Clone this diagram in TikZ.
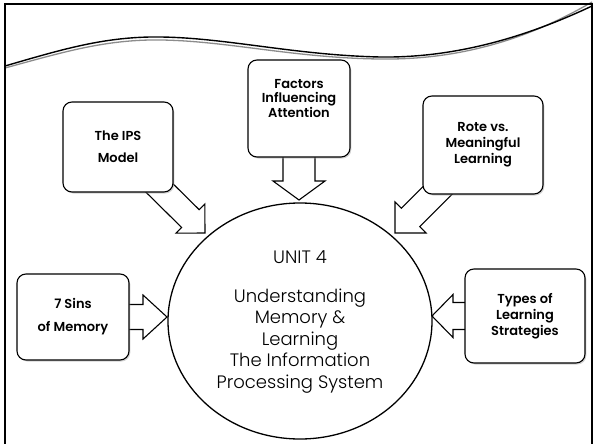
\documentclass[tikz,border=0pt]{standalone}
\usepackage{fontspec}
\setmainfont{Poppins}
\newfontfamily\thinfont{Poppins Light}
\newfontfamily\semifont{Poppins SemiBold}
\usetikzlibrary{calc,shadows,shapes.geometric}
\pgfdeclarelayer{bg}
\pgfsetlayers{bg,main}
\newcommand\blockarr[5]{%
  \coordinate (ba-hb) at ($(#2)!#5!(#1)$);
  \draw[blk] ($(#1)!#3!90:(#2)$) -- ($(ba-hb)!#3!90:(#2)$) -- ($(ba-hb)!#4!90:(#2)$) -- (#2)
    -- ($(ba-hb)!#4!-90:(#2)$) -- ($(ba-hb)!#3!-90:(#2)$) -- ($(#1)!#3!-90:(#2)$) -- cycle;}
\begin{document}
\begin{tikzpicture}[x=1pt,y=-1pt,
  topic/.style={draw=black, line width=1.1pt, rounded corners=9pt, fill=white, align=center,
    inner sep=0pt, drop shadow={shadow xshift=1.3pt, shadow yshift=-1.5pt, fill=black!35}},
  blk/.style={draw=black, line width=1.1pt, fill=white, line join=miter},
  hub/.style={draw=black, line width=1.3pt, ellipse, fill=white, inner sep=0pt},
  hubtext/.style={align=center, font=\thinfont\fontsize{18}{21.5}\selectfont, inner sep=0pt}]
\useasboundingbox (0,0) rectangle (594,444);
\clip (0,0) rectangle (594,444);

% hub
\node[hub, minimum width=264pt, minimum height=236pt] (hub) at (300,321) {};
\node[hubtext] (unit) at (300,257) {UNIT 4};
\node[hubtext] (title) at (300,341) {Understanding\\Memory \&\\Learning\\The Information\\Processing System};

% topic boxes
\node[topic, minimum width=110pt, minimum height=90pt, font=\semifont\fontsize{13}{22}\selectfont] (ips) at (118,147) {The IPS\\Model};
\node[topic, minimum width=102pt, minimum height=97pt, font=\semifont\fontsize{13}{14.5}\selectfont] (fac) at (299,108.5) {Factors\\Influencing\\Attention\\[6pt]};
\node[topic, minimum width=120pt, minimum height=98pt, font=\semifont\fontsize{13}{16}\selectfont] (rote) at (483,145) {Rote vs.\\Meaningful\\Learning};
\node[topic, minimum width=112pt, minimum height=86pt, font=\semifont\fontsize{13}{23}\selectfont] (sins) at (73,317) {7 Sins\\of Memory};
\node[topic, minimum width=120pt, minimum height=94pt, font=\semifont\fontsize{13}{16}\selectfont] (types) at (525,316) {Types of\\Learning\\Strategies};

% arrow tips
\coordinate (ips-tip) at (205,233);
\coordinate (fac-tip) at (299,200);
\coordinate (rote-tip) at (395,233);
\coordinate (sins-tip) at (167,317);
\coordinate (types-tip) at (432,316);

\begin{pgfonlayer}{bg}
  \fill[white] (0,0) rectangle (594,444);
  % wave
  \draw[black!45, line width=1.3pt] (5,68) .. controls (60,53) and (100,41) .. (150,40)
     .. controls (220,39) and (290,58) .. (380,59) .. controls (450,60) and (520,44) .. (592,2);
  \draw[black, line width=1.4pt] (5,66) .. controls (60,50) and (100,38) .. (150,37)
     .. controls (220,36) and (290,55) .. (380,57) .. controls (450,58) and (520,40) .. (592,6);
  % frame
  \draw[black, line width=2pt] (5,460) -- (5,4) -- (592,4) -- (592,460);
  % block arrows
  \blockarr{ips.center}{ips-tip}{12.5pt}{20.5pt}{20.5pt}
  \blockarr{fac.center}{fac-tip}{16pt}{26pt}{19pt}
  \blockarr{rote.center}{rote-tip}{13pt}{22pt}{22pt}
  \blockarr{sins.center}{sins-tip}{12.5pt}{22pt}{24pt}
  \blockarr{types.center}{types-tip}{13.5pt}{21.5pt}{21pt}
\end{pgfonlayer}
\end{tikzpicture}
\end{document}
